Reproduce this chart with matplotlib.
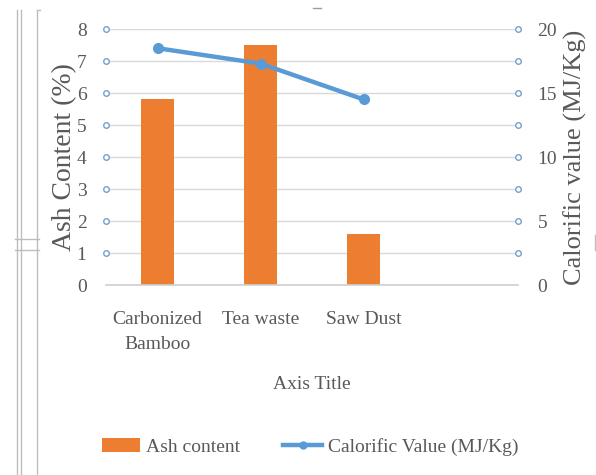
import numpy as np
import matplotlib.pyplot as plt
from matplotlib.lines import Line2D
from matplotlib.patches import Patch
import matplotlib.transforms as mtransforms

plt.rcParams['font.family'] = ['Liberation Serif', 'DejaVu Serif']

# data
categories = ['Carbonized\nBamboo', 'Tea waste', 'Saw Dust', '']
ash_content = [5.8, 7.5, 1.6]
calorific = [18.5, 17.3, 14.5]
left_ticks = [0, 1, 2, 3, 4, 5, 6, 7, 8]
right_ticks = [0, 2.5, 5, 7.5, 10, 12.5, 15, 17.5, 20]
right_labels = ['0', '', '5', '', '10', '', '15', '', '20']

orange = '#ED7D31'
blue = '#5B9BD5'
grey_txt = '#595959'
grid_col = '#D9D9D9'

fig = plt.figure(figsize=(5.96, 4.75), dpi=100)
ax = fig.add_axes([106/596, 1 - 285/475, (518-106)/596, (285-29)/475])
ax2 = ax.twinx()

x = np.arange(len(categories))
ax.bar(x[:len(ash_content)], ash_content, width=0.32, color=orange, zorder=2)
ax.set_xlim(-0.5, len(categories) - 0.5)
ax.set_ylim(0, 8)
ax.set_yticks(left_ticks)
ax.set_xticks(x)
ax.set_xticklabels(categories, fontsize=14, color=grey_txt, linespacing=1.55)
ax.tick_params(axis='both', length=0, labelsize=14, labelcolor=grey_txt)
ax.tick_params(axis='y', pad=14)
ax.tick_params(axis='x', pad=19)
ax.grid(axis='y', color=grid_col, linewidth=1)
ax.set_axisbelow(True)
for s in ['top', 'left', 'right']:
    ax.spines[s].set_visible(False)
ax.spines['bottom'].set_color('#D0D0D0')
ax.spines['bottom'].set_linewidth(1.2)

ax.set_ylabel('Ash Content (%)', fontsize=20, color=grey_txt, labelpad=0)
ax.set_xlabel('Axis Title', fontsize=14, color=grey_txt, labelpad=17)

ax2.plot(x[:len(calorific)], calorific, color=blue, linewidth=3.2,
         marker='o', markersize=7, zorder=3)
ax2.set_ylim(0, 20)
ax2.set_yticks(right_ticks)
ax2.set_yticklabels(right_labels)
ax2.tick_params(axis='y', length=0, labelsize=14, labelcolor=grey_txt, pad=14)
for s in ax2.spines.values():
    s.set_visible(False)
ax2.set_ylabel('Calorific value (MJ/Kg)', fontsize=19, color=grey_txt,
               labelpad=5)

# little open circles at the tick positions on both sides
tl = mtransforms.blended_transform_factory(ax.transAxes, ax.transData)
ax.plot([0] * (len(left_ticks) - 1), left_ticks[1:], linestyle='none',
        marker='o', markersize=4, markerfacecolor='white',
        markeredgecolor='#6FA3D2', markeredgewidth=1, transform=tl,
        clip_on=False, zorder=4)
tr = mtransforms.blended_transform_factory(ax2.transAxes, ax2.transData)
ax2.plot([1] * (len(right_ticks) - 1), right_ticks[1:], linestyle='none',
         marker='o', markersize=4, markerfacecolor='white',
         markeredgecolor='#6FA3D2', markeredgewidth=1, transform=tr,
         clip_on=False, zorder=4)

handles = [Patch(facecolor=orange, label='Ash content'),
           Line2D([0], [0], color=blue, linewidth=3.2, marker='o',
                  markersize=5, label='Calorific Value (MJ/Kg)')]
leg = fig.legend(handles=handles, loc='center', bbox_to_anchor=(310/596, 1 - 447/475),
                 ncol=2, frameon=False, fontsize=14, handlelength=2.0,
                 handletextpad=0.3, columnspacing=2.2)
for t in leg.get_texts():
    t.set_color(grey_txt)

# frame lines along the left edge
lc = '#BDBDBD'
fig.add_artist(Line2D([17/596, 17/596], [0, 1 - 10/475], color=lc, lw=1))
fig.add_artist(Line2D([21/596, 21/596], [0, 1 - 10/475], color=lc, lw=1))
fig.add_artist(Line2D([37/596, 37/596], [0, 1 - 10/475], color=lc, lw=1))
fig.add_artist(Line2D([37/596, 40/596], [1 - 10/475, 1 - 10/475], color=lc, lw=1))
fig.add_artist(Line2D([15/596, 39/596], [1 - 239/475, 1 - 239/475], color=lc, lw=1))
fig.add_artist(Line2D([15/596, 39/596], [1 - 250/475, 1 - 250/475], color=lc, lw=1))
fig.add_artist(Line2D([313/596, 321/596], [1 - 8/475, 1 - 8/475], color='#9E9E9E', lw=1))
fig.add_artist(Line2D([595/596, 595/596], [1 - 235/475, 1 - 250/475], color=lc, lw=1))

fig.savefig('out.png', dpi=100)
